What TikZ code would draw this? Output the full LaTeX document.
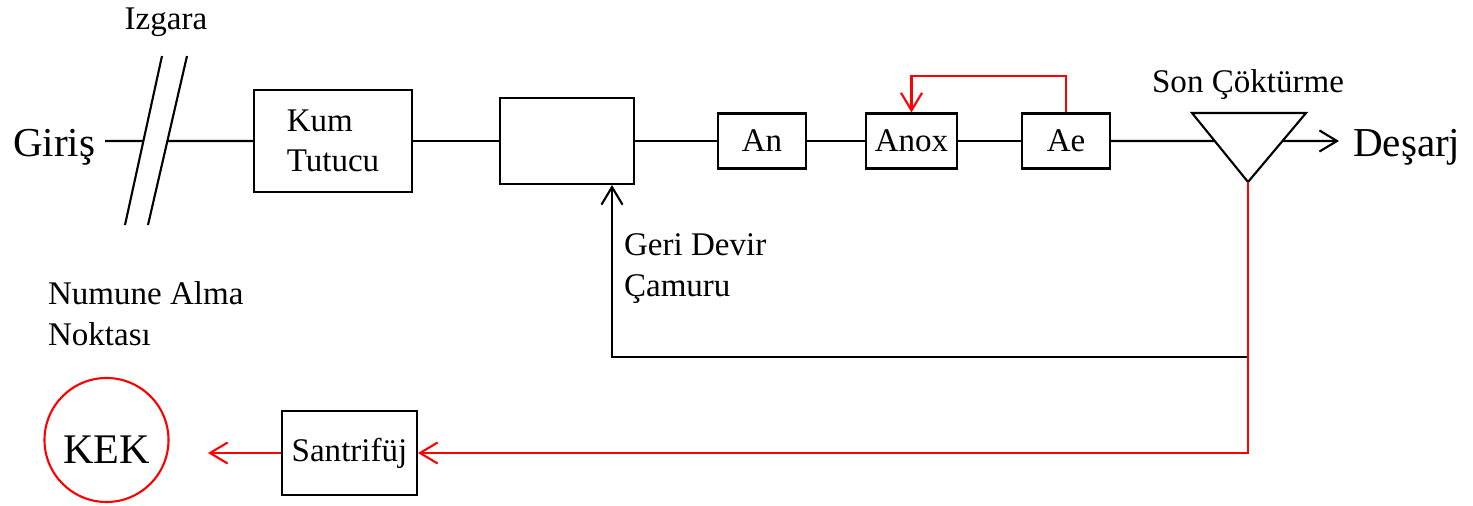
\documentclass[tikz,border=0pt]{standalone}
\usepackage{fontspec}
\setmainfont{Liberation Serif}
\usetikzlibrary{arrows.meta,calc}

\begin{document}
\begin{tikzpicture}[
    line width=0.6pt,
    >={Straight Barb[length=5pt,width=6pt]},
    box/.style={draw,inner sep=0pt,font=\fontsize{9.4}{11.5}\selectfont},
    lbl/.style={inner sep=0pt,font=\fontsize{9.4}{11.5}\selectfont,align=left},
    big/.style={inner sep=0pt,font=\fontsize{11.7}{14}\selectfont}
  ]
    \useasboundingbox (0,0) rectangle (14.73,-5.06);
    % giris ve izgara
    \node[big,anchor=base west] (giris) at (0.12,-1.57) {Giriş};
    \coordinate (g1) at (1.05,-1.41);
    \coordinate (iz1a) at (1.62,-0.56);
    \coordinate (iz1b) at (1.25,-2.25);
    \coordinate (iz2a) at (1.87,-0.56);
    \coordinate (iz2b) at (1.48,-2.25);
    \draw (iz1a) -- (iz1b);
    \draw (iz2a) -- (iz2b);
    \node[lbl,anchor=base] (izgara) at (1.66,-0.293) {Izgara};
    % ana hat
    \node[box,minimum width=1.58cm,minimum height=1.02cm,align=left] (kum) at (3.33,-1.41) {Kum\\Tutucu};
    \node[box,minimum width=1.34cm,minimum height=0.86cm] (hav) at (5.67,-1.41) {};
    \node[box,minimum width=0.88cm,minimum height=0.55cm] (an) at (7.62,-1.41) {An};
    \node[box,minimum width=0.91cm,minimum height=0.55cm] (anox) at (9.115,-1.41) {Anox};
    \node[box,minimum width=0.88cm,minimum height=0.55cm] (ae) at (10.66,-1.41) {Ae};
    \draw (g1) -- ($(iz1a)!0.503!(iz1b)$);
    \draw ($(iz2a)!0.503!(iz2b)$) -- (kum);
    \draw (kum) -- (hav);
    \draw (hav) -- (an);
    \draw (an) -- (anox);
    \draw (anox) -- (ae);
    \draw[red,->] (ae.north) -- ++(0,0.365) -| (anox.north);
    % son cokturme
    \coordinate (t1) at (11.92,-1.13);
    \coordinate (t2) at (13.06,-1.13);
    \coordinate (t3) at (12.48,-1.82);
    \draw (t1) -- (t2) -- (t3) -- cycle;
    \coordinate (tl) at ($(t1)!0.406!(t3)$);
    \coordinate (tr) at ($(t2)!0.406!(t3)$);
    \node[lbl,anchor=base] (cok) at (12.48,-0.93) {Son Çöktürme};
    \draw (ae) -- (tl);
    \node[big,anchor=base west] (desarj) at (13.52,-1.57) {Deşarj};
    \coordinate (d1) at (13.39,-1.41);
    \draw[->] (tr) -- (d1);
    % geri devir
    \coordinate (r1) at (12.48,-3.57);
    \coordinate (hd) at ($(hav.south)+(0.45,0)$);
    \draw[->] (r1) -| (hd);
    \node[lbl,anchor=north west] (geri) at (6.23,-2.33) {Geri Devir\\Çamuru};
    % camur hatti
    \node[lbl,anchor=north west] (numune) at (0.47,-2.81) {Numune Alma\\Noktası};
    \node[box,minimum width=1.35cm,minimum height=0.84cm] (santri) at (3.495,-4.53) {Santrifüj};
    \node[draw=red,circle,inner sep=0pt,minimum size=1.24cm,text height=13.6pt,text depth=0pt,
      font=\fontsize{12}{14}\selectfont] (kek) at (1.065,-4.40) {KEK};
    \coordinate (k1) at (2.08,-4.53);
    \draw[red,->] (t3) |- (santri);
    \draw[red,->] (santri) -- (k1);
\end{tikzpicture}
\end{document}
